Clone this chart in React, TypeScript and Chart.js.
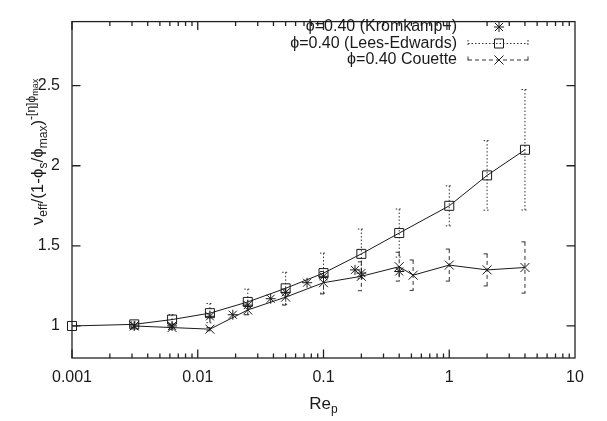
import { useEffect, useRef } from "react";
import { Chart, registerables } from "chart.js";
Chart.register(...registerables);

// ---- data ----
const LE_X = [0.001, 0.003125, 0.00625, 0.0125, 0.025, 0.05, 0.1, 0.2, 0.4, 1, 2, 4];
const LE_Y = [1.0, 1.01, 1.04, 1.08, 1.15, 1.235, 1.33, 1.45, 1.58, 1.75, 1.94, 2.1];
const LE_ERR = [0, 0.015, 0.03, 0.06, 0.08, 0.1, 0.125, 0.155, 0.15, 0.125, 0.217, 0.376];

const CO_X = [0.003125, 0.00625, 0.0125, 0.025, 0.05, 0.1, 0.2, 0.4, 0.516, 1, 2, 4];
const CO_Y = [1.0, 0.99, 0.98, 1.1, 1.18, 1.27, 1.31, 1.37, 1.317, 1.38, 1.35, 1.365];
const CO_ERR = [0.01, 0.01, 0.01, 0.03, 0.05, 0.07, 0.09, 0.09, 0.095, 0.1, 0.1, 0.16];

const KR_X = [0.003125, 0.00625, 0.0125, 0.019, 0.025, 0.038, 0.05, 0.074, 0.1, 0.178, 0.2, 0.4];
const KR_Y = [1.0, 1.0, 1.06, 1.07, 1.13, 1.17, 1.21, 1.27, 1.31, 1.35, 1.33, 1.34];

const X_TICKS = [0.001, 0.01, 0.1, 1, 10];
const X_TICK_LABELS = ["0.001", "0.01", "0.1", "1", "10"];
const Y_TICKS = [1, 1.5, 2, 2.5];
const Y_TICK_LABELS = ["1", "1.5", "2", "2.5"];

const LEGEND = ["\u03d5=0.40 (Kromkamp+)", "\u03d5=0.40 (Lees-Edwards)", "\u03d5=0.40 Couette"];

const FONT = "'Liberation Sans', Arial, sans-serif";
const INK = "#1a1a1a";

type Seg = { t: string; size: number; dy: number };

function drawRich(ctx: CanvasRenderingContext2D, segs: Seg[], cx: number, y: number) {
  let total = 0;
  for (const s of segs) {
    ctx.font = `${s.size}px ${FONT}`;
    total += ctx.measureText(s.t).width;
  }
  let x = cx - total / 2;
  ctx.textAlign = "left";
  ctx.textBaseline = "alphabetic";
  for (const s of segs) {
    ctx.font = `${s.size}px ${FONT}`;
    ctx.fillText(s.t, x, y + s.dy);
    x += ctx.measureText(s.t).width;
  }
}

function marker(ctx: CanvasRenderingContext2D, kind: string, x: number, y: number) {
  ctx.beginPath();
  if (kind === "square") {
    ctx.rect(x - 4.5, y - 4.5, 9, 9);
  } else if (kind === "x") {
    ctx.moveTo(x - 4.5, y - 4.5); ctx.lineTo(x + 4.5, y + 4.5);
    ctx.moveTo(x - 4.5, y + 4.5); ctx.lineTo(x + 4.5, y - 4.5);
  } else {
    ctx.moveTo(x - 5, y); ctx.lineTo(x + 5, y);
    ctx.moveTo(x, y - 5); ctx.lineTo(x, y + 5);
    ctx.moveTo(x - 4, y - 4); ctx.lineTo(x + 4, y + 4);
    ctx.moveTo(x - 4, y + 4); ctx.lineTo(x + 4, y - 4);
  }
  ctx.stroke();
}

const framePlugin = {
  id: "frame",
  beforeDatasetsDraw(chart: any) {
    const ctx: CanvasRenderingContext2D = chart.ctx;
    const xs = chart.scales.x, ys = chart.scales.y;
    const bars = [
      { X: LE_X, Y: LE_Y, E: LE_ERR, dash: [1.5, 2] },
      { X: CO_X, Y: CO_Y, E: CO_ERR, dash: [4, 3] },
    ];
    ctx.save();
    ctx.strokeStyle = "#333";
    ctx.lineWidth = 1;
    for (const b of bars) {
      ctx.setLineDash(b.dash);
      for (let i = 0; i < b.X.length; i++) {
        if (!b.E[i]) continue;
        const px = xs.getPixelForValue(b.X[i]);
        const y1 = ys.getPixelForValue(b.Y[i] + b.E[i]);
        const y2 = ys.getPixelForValue(b.Y[i] - b.E[i]);
        ctx.beginPath();
        ctx.moveTo(px, y1); ctx.lineTo(px, y2);
        ctx.moveTo(px - 3.5, y1); ctx.lineTo(px + 3.5, y1);
        ctx.moveTo(px - 3.5, y2); ctx.lineTo(px + 3.5, y2);
        ctx.stroke();
      }
    }
    ctx.restore();
  },
  afterDatasetsDraw(chart: any) {
    const ctx: CanvasRenderingContext2D = chart.ctx;
    const xs = chart.scales.x, ys = chart.scales.y;
    const { left, right, top, bottom } = chart.chartArea;
    ctx.save();
    ctx.strokeStyle = INK;
    ctx.lineWidth = 1;
    ctx.setLineDash([]);
    // markers
    const sets = [
      { X: KR_X, Y: KR_Y, k: "star" },
      { X: LE_X, Y: LE_Y, k: "square" },
      { X: CO_X, Y: CO_Y, k: "x" },
    ];
    for (const s of sets) {
      for (let i = 0; i < s.X.length; i++) {
        marker(ctx, s.k, xs.getPixelForValue(s.X[i]), ys.getPixelForValue(s.Y[i]));
      }
    }
    // frame
    ctx.lineWidth = 1.3;
    ctx.strokeStyle = "#222";
    ctx.strokeRect(left, top, right - left, bottom - top);
    ctx.beginPath();
    for (let d = -3; d < 1; d++) {
      for (let m = 1; m <= 9; m++) {
        const v = m * Math.pow(10, d);
        const px = xs.getPixelForValue(v);
        const len = m === 1 ? 8.5 : 4.5;
        ctx.moveTo(px, bottom); ctx.lineTo(px, bottom - len);
        ctx.moveTo(px, top); ctx.lineTo(px, top + len);
      }
    }
    for (const v of Y_TICKS) {
      const py = ys.getPixelForValue(v);
      ctx.moveTo(left, py); ctx.lineTo(left + 8.5, py);
      ctx.moveTo(right, py); ctx.lineTo(right - 8.5, py);
    }
    ctx.stroke();

    // legend
    ctx.fillStyle = INK;
    ctx.font = `16px ${FONT}`;
    ctx.textAlign = "right";
    ctx.textBaseline = "middle";
    const rows = [27, 43.5, 60];
    const tx = 457, s0 = 468, s1 = 528, mx = 499;
    for (let i = 0; i < 3; i++) ctx.fillText(LEGEND[i], tx, rows[i]);
    ctx.lineWidth = 1;
    ctx.strokeStyle = INK;
    marker(ctx, "star", mx, rows[0]);
    ctx.strokeStyle = "#333";
    ctx.setLineDash([1.5, 2]);
    ctx.beginPath();
    ctx.moveTo(s0, rows[1]); ctx.lineTo(s1, rows[1]);
    ctx.moveTo(s0, rows[1] - 3.5); ctx.lineTo(s0, rows[1] + 3.5);
    ctx.moveTo(s1, rows[1] - 3.5); ctx.lineTo(s1, rows[1] + 3.5);
    ctx.stroke();
    ctx.setLineDash([4, 3]);
    ctx.beginPath();
    ctx.moveTo(s0, rows[2]); ctx.lineTo(s1, rows[2]);
    ctx.moveTo(s0, rows[2] - 3.5); ctx.lineTo(s0, rows[2] + 3.5);
    ctx.moveTo(s1, rows[2] - 3.5); ctx.lineTo(s1, rows[2] + 3.5);
    ctx.stroke();
    ctx.setLineDash([]);
    ctx.strokeStyle = INK;
    marker(ctx, "square", mx, rows[1]);
    marker(ctx, "x", mx, rows[2]);

    // x title
    ctx.fillStyle = INK;
    drawRich(ctx, [
      { t: "Re", size: 17, dy: 0 },
      { t: "p", size: 12, dy: 4 },
    ], (left + right) / 2, 409);

    // y title
    ctx.save();
    ctx.translate(43, 152);
    ctx.rotate(-Math.PI / 2);
    drawRich(ctx, [
      { t: "\u03bd", size: 17, dy: 0 },
      { t: "eff", size: 12, dy: 4 },
      { t: "/(1-\u03d5", size: 17, dy: 0 },
      { t: "s", size: 12, dy: 4 },
      { t: "/\u03d5", size: 17, dy: 0 },
      { t: "max", size: 12, dy: 4 },
      { t: ")", size: 17, dy: 0 },
      { t: "-[\u03b7]\u03d5", size: 12, dy: -8 },
      { t: "max", size: 9, dy: -5 },
    ], 0, 0);
    ctx.restore();
    ctx.restore();
  },
};

export default function App() {
  const ref = useRef<HTMLCanvasElement>(null);
  useEffect(() => {
    document.body.style.margin = "0";
    const pts = (X: number[], Y: number[]) => X.map((x, i) => ({ x, y: Y[i] }));
    const chart = new Chart(ref.current!, {
      type: "scatter",
      data: {
        datasets: [
          { label: LEGEND[0], data: pts(KR_X, KR_Y), showLine: false, pointRadius: 0, borderColor: INK },
          { label: LEGEND[1], data: pts(LE_X, LE_Y), showLine: true, pointRadius: 0, borderColor: INK, borderWidth: 1 },
          { label: LEGEND[2], data: pts(CO_X, CO_Y), showLine: true, pointRadius: 0, borderColor: INK, borderWidth: 1 },
        ],
      },
      options: {
        animation: false,
        responsive: false,
        layout: { padding: { left: 0, right: 32, top: 9, bottom: 0 } },
        plugins: { legend: { display: false }, tooltip: { enabled: false } },
        scales: {
          x: {
            type: "logarithmic",
            min: 0.001,
            max: 10,
            grid: { display: false, drawTicks: false },
            border: { display: false },
            afterBuildTicks: (s: any) => { s.ticks = X_TICKS.map((v) => ({ value: v })); },
            afterFit: (s: any) => { s.height = 63; },
            ticks: {
              autoSkip: false,
              maxRotation: 0,
              padding: 10,
              color: INK,
              font: { family: FONT, size: 16 },
              callback: (v: any) => { const i = X_TICKS.indexOf(Number(v)); return i >= 0 ? X_TICK_LABELS[i] : ""; },
            },
          },
          y: {
            type: "linear",
            min: 0.8,
            max: 2.9,
            grid: { display: false, drawTicks: false },
            border: { display: false },
            afterBuildTicks: (s: any) => { s.ticks = Y_TICKS.map((v) => ({ value: v })); },
            afterFit: (s: any) => { s.width = 72; },
            ticks: {
              autoSkip: false,
              padding: 12,
              color: INK,
              font: { family: FONT, size: 16 },
              callback: (v: any) => { const i = Y_TICKS.indexOf(Number(v)); return i >= 0 ? Y_TICK_LABELS[i] : ""; },
            },
          },
        },
      },
      plugins: [framePlugin],
    });
    return () => chart.destroy();
  }, []);
  return <canvas ref={ref} width={607} height={421} style={{ display: "block" }} />;
}
